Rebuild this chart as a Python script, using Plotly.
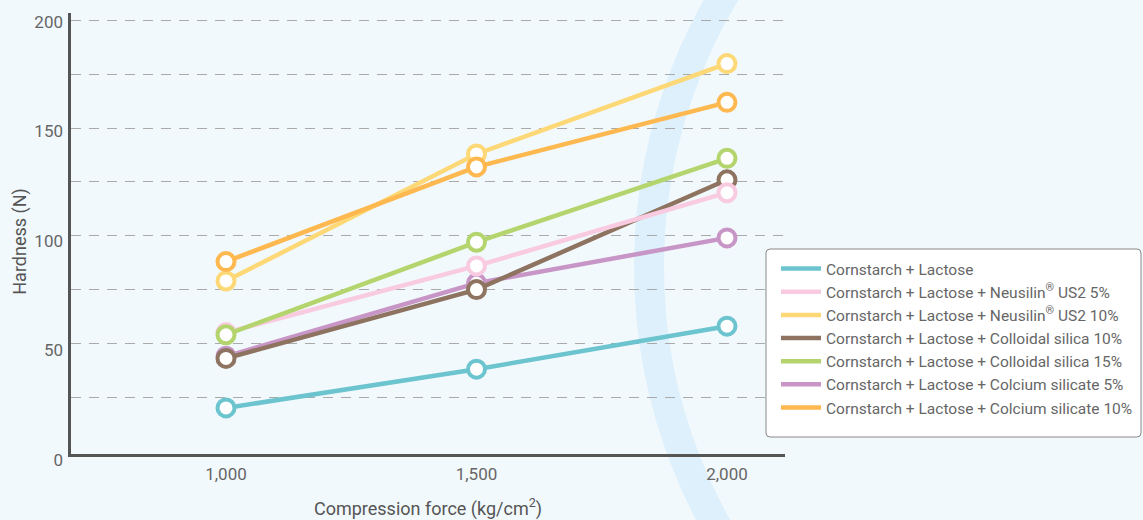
import plotly.graph_objects as go

# Compression force levels (kg/cm2)
force = [1000, 1500, 2000]

# Tablet hardness (N) for each formulation
series_names = [
    "Cornstarch + Lactose",
    "Cornstarch + Lactose + Neusilin<sup>®</sup> US2 5%",
    "Cornstarch + Lactose + Neusilin<sup>®</sup> US2 10%",
    "Cornstarch + Lactose + Colloidal silica 10%",
    "Cornstarch + Lactose + Colloidal silica 15%",
    "Cornstarch + Lactose + Colcium silicate 5%",
    "Cornstarch + Lactose + Colcium silicate 10%",
]
hardness_cl = [20, 38, 58]
hardness_neu5 = [55, 86, 120]
hardness_neu10 = [79, 138, 180]
hardness_cs10 = [43, 75, 126]
hardness_cs15 = [54, 97, 136]
hardness_ca5 = [44, 78, 99]
hardness_ca10 = [88, 132, 162]

series_values = [hardness_cl, hardness_neu5, hardness_neu10, hardness_cs10,
                 hardness_cs15, hardness_ca5, hardness_ca10]
series_colors = ["#6CC4CF", "#F9CBE0", "#FDD876", "#8D7360",
                 "#B4D56D", "#C896C6", "#FDB84F"]

# y tick labels and dashed grid steps (the axis line itself marks zero)
label_vals = [0, 50, 100, 150, 200]
grid_vals = [25, 50, 75, 100, 125, 150, 175, 200]

# stacking order of the lines (bottom to top); legend keeps the list order
draw_order = [0, 5, 3, 1, 4, 2, 6]

FONT = "Roboto, Arial, sans-serif"

fig = go.Figure()
for idx in draw_order:
    fig.add_trace(go.Scatter(
        x=force,
        y=series_values[idx],
        name=series_names[idx],
        mode="lines+markers",
        showlegend=False,
        line=dict(color=series_colors[idx], width=4.5),
        marker=dict(symbol="circle", size=17, color="white",
                    line=dict(color=series_colors[idx], width=4)),
    ))

# legend entries: plain line swatches (they also carry the label axis)
for idx, name in enumerate(series_names):
    fig.add_trace(go.Scatter(
        x=[None], y=[None], name=name, mode="lines",
        legendrank=idx + 1, yaxis="y2",
        line=dict(color=series_colors[idx], width=4.5),
    ))

# layout box in pixels: plot frame bottom at 454, label axis runs to 470
L, T, W = 71, 13, 714
PLOT_BOTTOM, BOX_BOTTOM = 454, 470
H = BOX_BOTTOM - T
FW, FH = 1143, 520


def px(xp):
    return (xp - L) / W


def py(yp):
    return (T + H - yp) / H


# decorative pale arc in the background
cx, cy, r = 1180, 267, 531
fig.add_shape(
    type="circle", xref="paper", yref="paper", layer="below",
    x0=px(cx - r), x1=px(cx + r),
    y0=py(cy + r), y1=py(cy - r),
    line=dict(color="#DDF0FB", width=30), fillcolor="rgba(0,0,0,0)",
)

# rounded legend frame
bx0, by0, bx1, by1, rad = 766, 249, 1141, 437, 4
frame = (
    f"M{px(bx0 + rad)},{py(by0)} L{px(bx1 - rad)},{py(by0)} "
    f"Q{px(bx1)},{py(by0)} {px(bx1)},{py(by0 + rad)} "
    f"L{px(bx1)},{py(by1 - rad)} "
    f"Q{px(bx1)},{py(by1)} {px(bx1 - rad)},{py(by1)} "
    f"L{px(bx0 + rad)},{py(by1)} "
    f"Q{px(bx0)},{py(by1)} {px(bx0)},{py(by1 - rad)} "
    f"L{px(bx0)},{py(by0 + rad)} "
    f"Q{px(bx0)},{py(by0)} {px(bx0 + rad)},{py(by0)} Z"
)
fig.add_shape(
    type="path", xref="paper", yref="paper", layer="above", path=frame,
    fillcolor="white", line=dict(color="#888888", width=1),
)

fig.update_layout(
    width=FW, height=FH,
    margin=dict(l=L, r=FW - L - W, t=T, b=FH - BOX_BOTTOM, pad=0,
                autoexpand=False),
    paper_bgcolor="#F2F9FD",
    plot_bgcolor="rgba(0,0,0,0)",
    font=dict(family=FONT, color="#666666", size=17),
    showlegend=True,
    legend=dict(
        x=px(776), xanchor="left",
        y=py(252), yanchor="top",
        bgcolor="rgba(0,0,0,0)", borderwidth=0,
        font=dict(family=FONT, size=15.5, color="#666666"),
        tracegroupgap=0, itemwidth=40,
    ),
    xaxis=dict(
        range=[690.6, 2115.8], anchor="y",
        tickvals=force, ticktext=["1,000", "1,500", "2,000"],
        showgrid=False, zeroline=False, automargin=False,
        showline=True, linecolor="#555555", linewidth=3,
        ticks="", ticklabelstandoff=3,
        title=dict(text="Compression force (kg/cm<sup>2</sup>)",
                   font=dict(size=18, color="#555555"), standoff=20),
    ),
    # dashed grid and axis line
    yaxis=dict(
        domain=[py(PLOT_BOTTOM), 1],
        range=[-1.4, 203.5],
        tickvals=grid_vals, showticklabels=False,
        showgrid=True, gridcolor="#AAAAAA", gridwidth=1.3,
        griddash="10px,8px",
        zeroline=False, automargin=False,
        showline=True, linecolor="#555555", linewidth=3,
        ticks="",
    ),
    # tick labels and title
    yaxis2=dict(
        domain=[0, 1], anchor="x", side="left",
        range=[-4.56, 203.97],
        tickvals=label_vals, ticktext=[str(v) for v in label_vals],
        showgrid=False, zeroline=False, showline=False, automargin=False,
        ticks="", ticklabelstandoff=7,
        title=dict(text="Hardness (N)", font=dict(size=18, color="#555555"),
                   standoff=3),
    ),
)

fig.write_html("out.html")
